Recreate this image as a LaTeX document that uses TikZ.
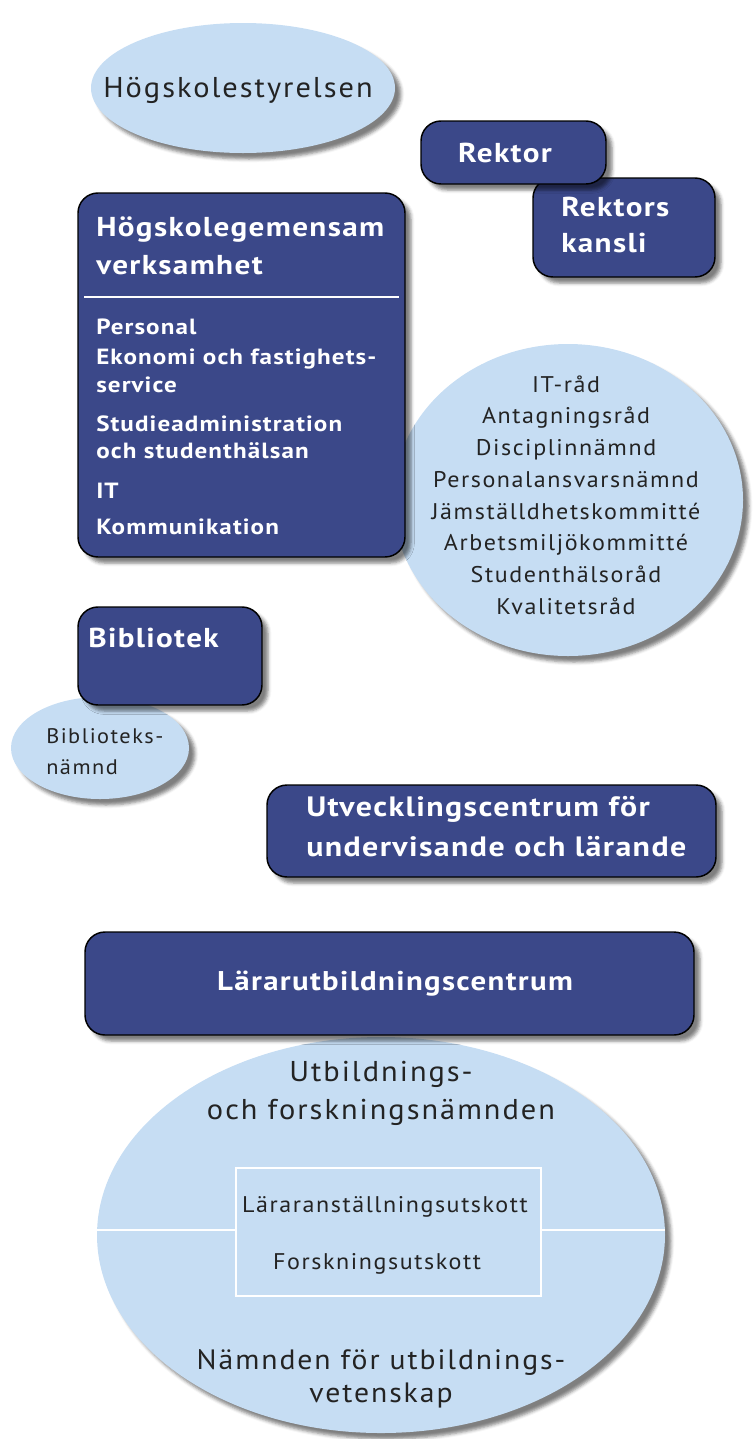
\documentclass[tikz,border=0pt]{standalone}
\usepackage{fontspec}
\setmainfont{PT Sans}
\newfontfamily\boardfont[FakeStretch=1.06,LetterSpace=7]{PT Sans}
\newfontfamily\unitfont[FakeStretch=1.14,LetterSpace=5]{PT Sans}
\usetikzlibrary{shadows.blur}

\definecolor{unitblue}{RGB}{59,72,137}
\definecolor{boardblue}{RGB}{198,221,243}
\definecolor{boardink}{RGB}{35,35,35}

\tikzset{
  softshadow/.style={blur shadow={shadow xshift=4.5pt,shadow yshift=-4.5pt,shadow blur radius=2.5pt,shadow opacity=50}},
  unit/.style={draw=black,line width=1.1pt,fill=unitblue,rounded corners=15pt,softshadow},
  board/.style={draw=none,fill=boardblue,softshadow},
  unitbig/.style={text=white,inner sep=0.75pt,align=left,font=\unitfont\bfseries\fontsize{20.5}{26.5}\selectfont},
  unitwide/.style={text=white,inner sep=0.75pt,align=left,font=\unitfont\bfseries\fontsize{21}{30}\selectfont},
  unitsmall/.style={text=white,inner sep=0.75pt,align=left,font=\unitfont\bfseries\fontsize{16.5}{20.5}\selectfont},
  boardbig/.style={text=boardink,inner sep=0.75pt,align=center,font=\boardfont\fontsize{21.5}{28.5}\selectfont},
  boardsmall/.style={text=boardink,inner sep=0.75pt,align=center,font=\boardfont\fontsize{17}{23.8}\selectfont},
  boardtiny/.style={text=boardink,inner sep=0.75pt,align=left,font=\boardfont\fontsize{15.8}{23.2}\selectfont}
}

\begin{document}
\begin{tikzpicture}[x=0.75pt,y=0.75pt,yscale=-1,xscale=1]
\useasboundingbox (0,0) rectangle (753,1439);

%Ellipse: Högskolestyrelsen
\path[board] (243,88) ellipse (152 and 65);
\node[boardbig] (styrelse) at (238,90) {Högskolestyrelsen};

%Rounded box: Rektors kansli
\draw[unit] (533,178) rectangle (715,277);
\node[unitbig,anchor=north west] (kansli) at (560,196) {Rektors\\kansli};
%Rounded box: Rektor
\draw[unit] (421,121) rectangle (606,184);
\node[unitbig] (rektor) at (505,153) {Rektor};

%Ellipse: councils
\path[board] (568,500) ellipse (175 and 156);
\node[boardsmall] (raad) at (566,495) {IT-råd\\Antagningsråd\\Disciplinnämnd\\Personalansvarsnämnd\\Jämställdhetskommitté\\Arbetsmiljökommitté\\Studenthälsoråd\\Kvalitetsråd};

%Rounded box: Högskolegemensam verksamhet
\draw[unit] (78,193) rectangle (405,557);
\draw[white,line width=2pt] (84,297) -- (399,297);
\node[unitbig,anchor=north west] (gemensam) at (95,216) {Högskolegemensam\\[2pt]verksamhet};
\node[unitsmall,anchor=north west] (enheter) at (95,318) {Personal\\[2pt]Ekonomi och fastighets-\\service\\[9pt]Studieadministration\\och studenthälsan\\[9pt]IT\\[7pt]Kommunikation};

%Ellipse: Biblioteksnämnd
\path[board] (100,748) ellipse (89 and 51);
\node[boardtiny,anchor=west] (bibnamnd) at (45,752) {Biblioteks-\\nämnd};
%Rounded box: Bibliotek
\draw[unit] (78,607) rectangle (262,705);
\node[unitbig,anchor=west] (bibliotek) at (87,638) {Bibliotek};

%Rounded box: Utvecklingscentrum
\draw[unit] (267,785) rectangle (716,877);
\node[unitwide,anchor=west] (utveckling) at (305,827) {Utvecklingscentrum för\\undervisande och lärande};

%Ellipse: nämnder
\path[board] (381,1235) ellipse (284 and 198);
\draw[white,line width=2pt] (97,1230) -- (236,1230);
\draw[white,line width=2pt] (541,1230) -- (665,1230);
\draw[white,line width=2pt] (236,1168) rectangle (541,1296);
\node[boardbig] (ufn) at (381,1093) {Utbildnings-\\och forskningsnämnden};
\node[boardsmall] (larutskott) at (385,1207) {Läraranställningsutskott};
\node[boardsmall] (forskutskott) at (377,1264) {Forskningsutskott};
\node[boardbig,font=\boardfont\fontsize{21}{25}\selectfont] (nuv) at (381,1379) {Nämnden för utbildnings-\\vetenskap};

%Rounded box: Lärarutbildningscentrum
\draw[unit] (85,932) rectangle (694,1035);
\node[unitbig,font=\unitfont\bfseries\fontsize{20.3}{26}\selectfont] (luc) at (395,984) {Lärarutbildningscentrum};

\end{tikzpicture}
\end{document}
